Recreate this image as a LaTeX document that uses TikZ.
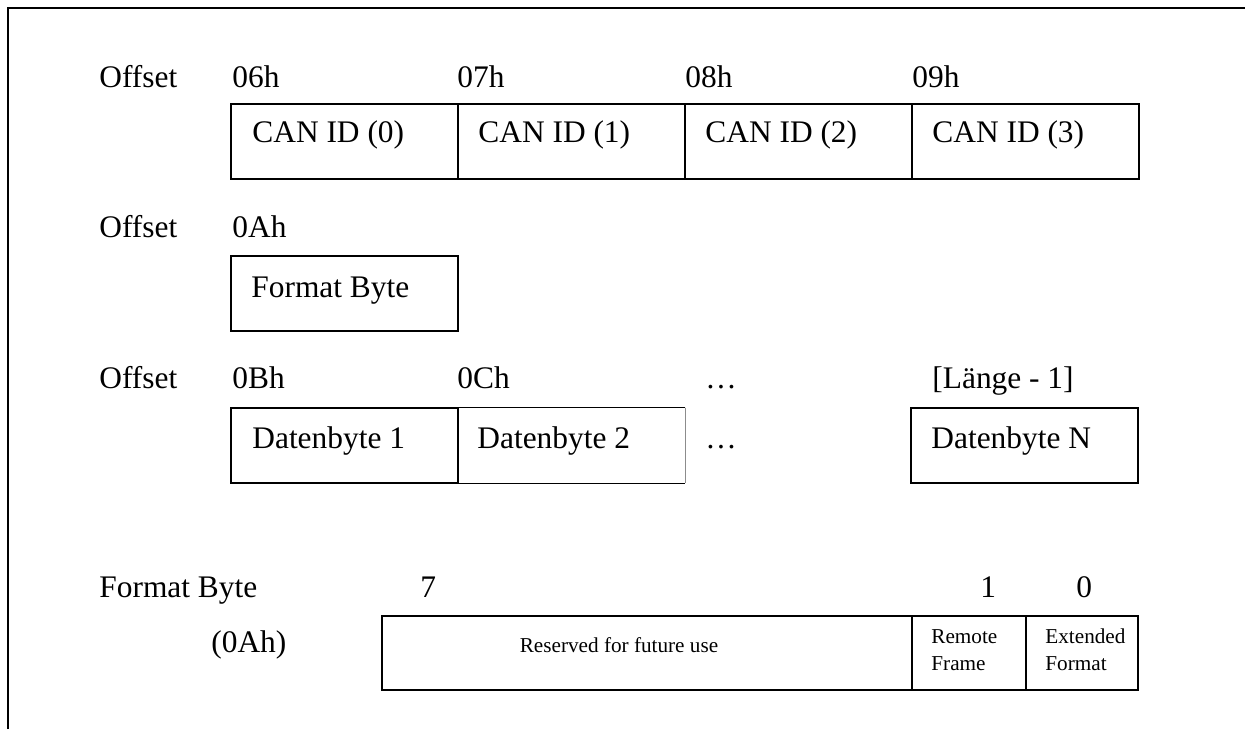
\documentclass[tikz,border=0pt]{standalone}
\usepackage{fontspec}
\setmainfont{Liberation Serif}
\usetikzlibrary{fit}
\tikzset{
  lbl/.style={inner sep=0pt, anchor=base west, font=\fontsize{15.7pt}{18pt}\selectfont},
  sml/.style={inner sep=0pt, anchor=base west, font=\fontsize{10.6pt}{13.5pt}\selectfont, align=left},
  cell/.style={draw, line width=0.75pt, inner sep=0pt},
  frameline/.style={line width=1pt}
}
\begin{document}
\begin{tikzpicture}[x=0.5pt,y=-0.5pt]
\useasboundingbox (0,0) rectangle (1245,729);
% frame
\coordinate (fb) at (7.5,729);
\coordinate (fc) at (7.5,7.5);
\coordinate (fr) at (1245,7.5);
\draw[frameline] (fb) -- (fc) -- (fr);

% Row 1
\node[lbl] (o1) at (99,87) {Offset};
\node[lbl] (h06) at (232,87) {06h};
\node[lbl] (h07) at (457,87) {07h};
\node[lbl] (h08) at (685,87) {08h};
\node[lbl] (h09) at (912,87) {09h};
\node[cell, fit={(231,104)(458,179)}] (c0) {};
\node[cell, fit={(458,104)(685,179)}] (c1) {};
\node[cell, fit={(685,104)(912,179)}] (c2) {};
\node[cell, fit={(912,104)(1139,179)}] (c3) {};
\node[lbl] (t0) at (252,142) {CAN ID (0)};
\node[lbl] (t1) at (478,142) {CAN ID (1)};
\node[lbl] (t2) at (705,142) {CAN ID (2)};
\node[lbl] (t3) at (932,142) {CAN ID (3)};

% Row 2
\node[lbl] (o2) at (99,237) {Offset};
\node[lbl] (h0A) at (232,237) {0Ah};
\node[cell, fit={(231,256)(458,331)}] (fmt) {};
\node[lbl] (tf) at (251,297) {Format Byte};

% Row 3
\node[lbl] (o3) at (99,388) {Offset};
\node[lbl] (h0B) at (232,388) {0Bh};
\node[lbl] (h0C) at (457,388) {0Ch};
\node[lbl] (dots1) at (705,388) {\dots};
\node[lbl] (hN) at (932,388) {[Länge - 1]};
\node[cell, fit={(231,408)(458,483)}] (d1) {};
\node[inner sep=0pt, fit={(458,408)(685,483)}] (d2) {};
\draw[line width=0.75pt] (d2.north east) -- (d2.north west) -- (d2.south west) -- (d2.south east);
\draw[line width=0.6pt, black!45] (d2.north east) -- (d2.south east);
\node[cell, fit={(911,408)(1138,483)}] (dN) {};
\node[lbl] (td1) at (252,448) {Datenbyte 1};
\node[lbl] (td2) at (477,448) {Datenbyte 2};
\node[lbl] (dots2) at (705,448) {\dots};
\node[lbl] (tdN) at (931,448) {Datenbyte N};

% Row 4
\node[lbl] (fb4) at (99,597) {Format Byte};
\node[lbl] (b7) at (420,597) {7};
\node[lbl] (b1) at (980,597) {1};
\node[lbl] (b0) at (1076,597) {0};
\node[lbl] (f0A) at (211,652) {(0Ah)};
\node[cell, fit={(382,616)(912,690)}] (res) {};
\node[cell, fit={(912,616)(1026,690)}] (rem) {};
\node[cell, fit={(1026,616)(1138,690)}] (ext) {};
\node[sml, anchor=base] (tres) at (619,652) {Reserved for future use};
\node[sml] (trem) at (931,670) {Remote\\Frame};
\node[sml] (text) at (1045,670) {Extended\\Format};
\end{tikzpicture}
\end{document}
